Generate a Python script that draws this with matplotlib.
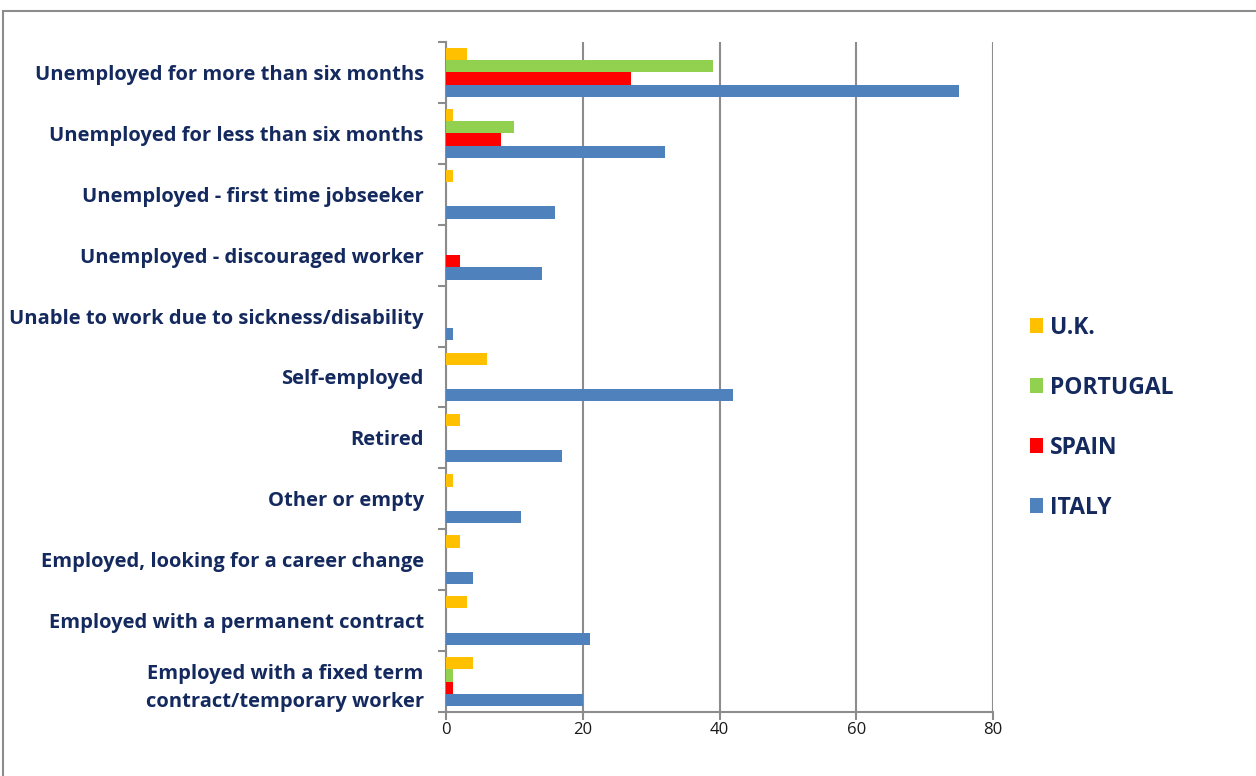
import matplotlib
matplotlib.use("Agg")
import matplotlib.pyplot as plt
import numpy as np
from matplotlib.patches import Rectangle

# Employment status of respondents, by country
categories = [
    "Unemployed for more than six months",
    "Unemployed for less than six months",
    "Unemployed - first time jobseeker",
    "Unemployed - discouraged worker",
    "Unable to work due to sickness/disability",
    "Self-employed",
    "Retired",
    "Other or empty",
    "Employed, looking for a career change",
    "Employed with a permanent contract",
    "Employed with a fixed term\ncontract/temporary worker",
]
series_names = ["U.K.", "PORTUGAL", "SPAIN", "ITALY"]
uk       = [3, 1, 1, 0, 0, 6, 2, 1, 2, 3, 4]
portugal = [39, 10, 0, 0, 0, 0, 0, 0, 0, 0, 1]
spain    = [27, 8, 0, 2, 0, 0, 0, 0, 0, 0, 1]
italy    = [75, 32, 16, 14, 1, 42, 17, 11, 4, 21, 20]
x_ticks = [0, 20, 40, 60, 80]

colors = ["#FFC000", "#92D050", "#FF0000", "#4F81BD"]
label_color = "#14295E"
grid_color = "#8C8C8C"

fig = plt.figure(figsize=(12.56, 7.76), dpi=100)
ax = fig.add_axes([446 / 1256, 64 / 776, 547 / 1256, 670 / 776])

n = len(categories)
centers = np.arange(n)[::-1]  # first category at top
bar_h = 0.2
offsets = [-1.5, -0.5, 0.5, 1.5]
handles = []
for vals, name, col, off in zip([uk, portugal, spain, italy], series_names, colors, offsets):
    h = ax.barh(centers - off * bar_h, vals, height=bar_h, color=col, label=name,
                zorder=3, edgecolor="none")
    handles.append(h)

ax.set_xlim(0, 80)
ax.set_ylim(-0.5, n - 0.5)
ax.set_xticks(x_ticks)
ax.set_xticklabels([str(t) for t in x_ticks], fontsize=12, color="#1A1A1A",
                   family=["Open Sans", "DejaVu Sans"])
ax.xaxis.grid(True, color=grid_color, linewidth=1.5, zorder=0)
ax.tick_params(axis="x", length=6, width=1.5, color=grid_color, pad=1)

ax.set_yticks(centers)
ax.set_yticklabels(categories, fontsize=14.5, fontweight="bold", color=label_color,
                   family=["Open Sans", "DejaVu Sans"], linespacing=1.5)
ax.tick_params(axis="y", which="major", length=0, pad=16)
ax.set_yticks(np.arange(n + 1) - 0.5, minor=True)
ax.tick_params(axis="y", which="minor", length=6, width=1.5, color=grid_color)

for side in ["top", "right"]:
    ax.spines[side].set_visible(False)
for side in ["left", "bottom"]:
    ax.spines[side].set_color(grid_color)
    ax.spines[side].set_linewidth(1.5)

leg = fig.legend(handles=handles, labels=series_names, loc="upper left",
                 bbox_to_anchor=(1009 / 1256, 1 - 295 / 776), frameon=False,
                 prop={"family": ["Open Sans", "DejaVu Sans"], "weight": "bold", "size": 16.5},
                 handlelength=0.58, handleheight=0.58, handletextpad=0.3,
                 labelspacing=1.57)
for t in leg.get_texts():
    t.set_color(label_color)

# chart area frame
fig.patches.append(Rectangle((3 / 1256, -0.01), 1.0, 1 - 11 / 776 + 0.01,
                             transform=fig.transFigure, fill=False,
                             edgecolor=grid_color, linewidth=1.5))

fig.savefig("out.png", dpi=100)
